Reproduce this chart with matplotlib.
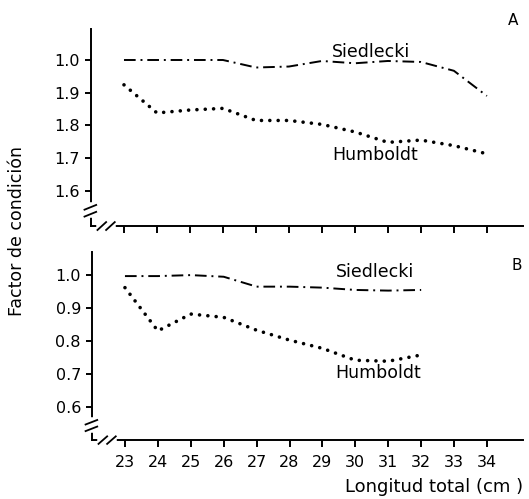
import numpy as np
import matplotlib
matplotlib.use('Agg')
import matplotlib.pyplot as plt

# Longitud total (cm)
longitud_a = [23, 24, 25, 26, 27, 28, 29, 30, 31, 32, 33, 34]
siedlecki_a = [2.00, 2.00, 2.00, 2.00, 1.977, 1.98, 1.997, 1.99, 1.997, 1.994, 1.967, 1.89]
humboldt_a = [1.924, 1.838, 1.847, 1.852, 1.815, 1.815, 1.803, 1.78, 1.748, 1.755, 1.738, 1.713]

longitud_b = [23, 24, 25, 26, 27, 28, 29, 30, 31, 32]
siedlecki_b = [0.997, 0.997, 1.0, 0.995, 0.965, 0.965, 0.962, 0.955, 0.953, 0.955]
humboldt_b = [0.962, 0.831, 0.882, 0.872, 0.833, 0.803, 0.778, 0.742, 0.739, 0.758]

yticks_a = [1.6, 1.7, 1.8, 1.9, 2.0]
yticklabels_a = ['1.6', '1.7', '1.8', '1.9', '1.0']  # como en el original
yticks_b = [0.6, 0.7, 0.8, 0.9, 1.0]
yticklabels_b = ['0.6', '0.7', '0.8', '0.9', '1.0']
xticks = list(range(23, 35))

plt.rcParams['font.family'] = ['DejaVu Sans']

fig = plt.figure(figsize=(5.29, 4.99), dpi=100)
ax_a = fig.add_axes([0.172, 0.547, 0.817, 0.395])
ax_b = fig.add_axes([0.174, 0.118, 0.815, 0.377])

dotted = dict(color='black', linestyle=(0, (0.01, 2.3)), linewidth=2.6,
              dash_capstyle='round')
dashdot = dict(color='black', linestyle=(0, (6, 2.5, 1, 2.5)), linewidth=1.4)


def estilo(ax, yticks, ylabels, ylim, show_xlabels):
    ax.set_xlim(22.0, 35.1)
    ax.set_ylim(*ylim)
    for s in ['top', 'right']:
        ax.spines[s].set_visible(False)
    for s in ['left', 'bottom']:
        ax.spines[s].set_linewidth(1.4)
    ax.set_yticks(yticks)
    ax.set_yticklabels(ylabels)
    ax.set_xticks(xticks)
    if show_xlabels:
        ax.set_xticklabels([str(v) for v in xticks])
    else:
        ax.set_xticklabels([])
    ax.tick_params(axis='y', direction='out', length=4, width=1.4, pad=4,
                   labelsize=11.5)
    ax.tick_params(axis='x', direction='out', length=5, width=1.4, pad=6,
                   labelsize=11.5)
    # marcas de corte en ambos ejes
    tr = ax.transAxes
    ax.plot([0, 0], [0.055, 0.105], transform=tr, color='white', lw=4,
            clip_on=False, zorder=5)
    for dy in (0.06, 0.095):
        ax.plot([-0.015, 0.012], [dy - 0.012, dy + 0.012], transform=tr,
                color='black', lw=1.3, clip_on=False, zorder=6)
    ax.plot([0.018, 0.05], [0, 0], transform=tr, color='white', lw=4,
            clip_on=False, zorder=5)
    for dx in (0.025, 0.045):
        ax.plot([dx - 0.01, dx + 0.01], [-0.02, 0.02], transform=tr,
                color='black', lw=1.3, clip_on=False, zorder=6)


# Panel A
ax_a.plot(longitud_a, siedlecki_a, **dashdot)
ax_a.plot(longitud_a, humboldt_a, **dotted)
estilo(ax_a, yticks_a, yticklabels_a, (1.492, 2.095), False)
ax_a.text(30.5, 2.025, 'Siedlecki', fontsize=12.5, ha='center', va='center')
ax_a.text(30.6, 1.71, 'Humboldt', fontsize=12.5, ha='center', va='center')
ax_a.text(34.8, 2.12, 'A', fontsize=11, ha='center', va='center')

# Panel B
ax_b.plot(longitud_b, siedlecki_b, **dashdot)
ax_b.plot(longitud_b, humboldt_b, **dotted)
estilo(ax_b, yticks_b, yticklabels_b, (0.5, 1.07), True)
ax_b.text(30.6, 1.01, 'Siedlecki', fontsize=12.5, ha='center', va='center')
ax_b.text(30.7, 0.703, 'Humboldt', fontsize=12.5, ha='center', va='center')
ax_b.text(34.9, 1.03, 'B', fontsize=11, ha='center', va='center')

fig.text(17 / 529, 1 - 231 / 499, 'Factor de condición', rotation=90,
         fontsize=12.5, ha='center', va='center')
fig.text(434 / 529, 1 - 487 / 499, 'Longitud total (cm )', fontsize=13,
         ha='center', va='center')

fig.savefig('out.png', dpi=100)
